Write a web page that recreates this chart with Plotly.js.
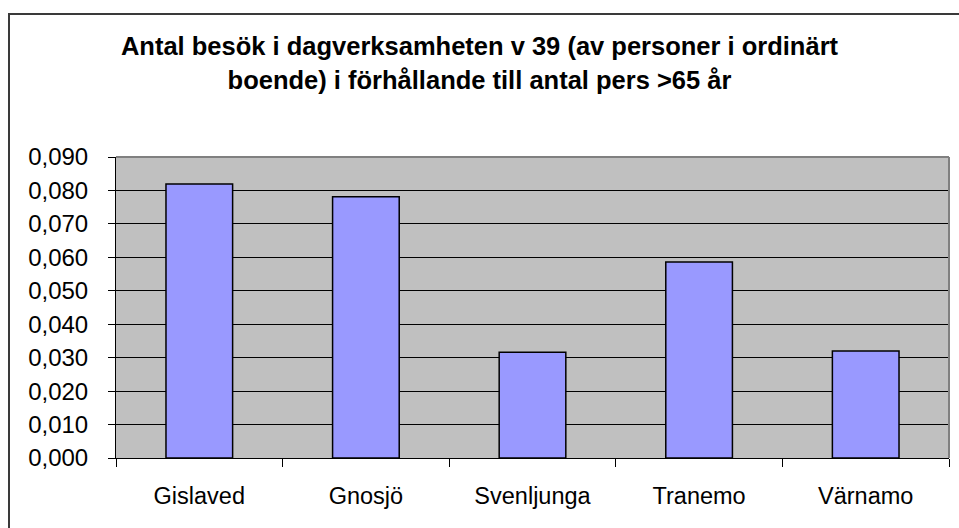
<!DOCTYPE html>
<html>
<head>
<meta charset="utf-8">
<script src="https://cdn.plot.ly/plotly-3.0.1.min.js"></script>
<style>
html,body{margin:0;padding:0;background:#fff;}
#chart{width:959px;height:528px;position:absolute;left:0;top:0;}
#frame{position:absolute;left:8px;top:13px;width:1000px;height:600px;border-left:2px solid #3a3a3a;border-top:2px solid #3a3a3a;pointer-events:none;}
</style>
</head>
<body>
<div id="chart"></div>
<div id="frame"></div>
<script>
var categories = ["Gislaved", "Gnosjö", "Svenljunga", "Tranemo", "Värnamo"];
var values = [0.0819, 0.0781, 0.0316, 0.0586, 0.0320];
var tickValues = [0, 0.01, 0.02, 0.03, 0.04, 0.05, 0.06, 0.07, 0.08, 0.09];
var tickLabels = ["0,000", "0,010", "0,020", "0,030", "0,040", "0,050", "0,060", "0,070", "0,080", "0,090"];
var titleText = "Antal besök i dagverksamheten v 39 (av personer i ordinärt<br>boende) i förhållande till antal pers >65 år";

var font = "Liberation Sans, Arial, sans-serif";

var trace = {
  type: "bar",
  x: categories,
  y: values,
  marker: {color: "#9999FF", line: {color: "#000000", width: 1.5}},
  hoverinfo: "x+y"
};

var layout = {
  width: 959,
  height: 528,
  margin: {l: 116, r: 10, t: 157, b: 70, pad: 0},
  paper_bgcolor: "#ffffff",
  plot_bgcolor: "#C0C0C0",
  bargap: 0.6,
  showlegend: false,
  font: {family: font, color: "#000000"},
  title: {
    text: titleText,
    font: {family: font, size: 25.5, color: "#000000", weight: "bold"},
    x: 0.5, xref: "container", xanchor: "center",
    y: 0.895, yref: "container", yanchor: "middle"
  },
  xaxis: {
    type: "category",
    showline: true, linecolor: "#000000", linewidth: 1,
    ticks: "outside", tickson: "boundaries", ticklen: 8, tickcolor: "#000000", tickwidth: 1,
    ticklabelstandoff: 17,
    tickfont: {family: font, size: 23.5, color: "#000000"},
    showgrid: false, zeroline: false,
    fixedrange: true
  },
  yaxis: {
    range: [0, 0.09],
    tickvals: tickValues,
    ticktext: tickLabels,
    showline: true, linecolor: "#000000", linewidth: 1,
    ticks: "outside", ticklen: 7, tickcolor: "#000000", tickwidth: 1,
    ticklabelstandoff: 15,
    tickfont: {family: font, size: 24, color: "#000000"},
    showgrid: true, gridcolor: "#000000", gridwidth: 1,
    zeroline: false,
    fixedrange: true
  },
  shapes: [
    {type: "line", xref: "paper", yref: "paper", x0: 0, x1: 1, y0: 1, y1: 1, line: {color: "#808080", width: 2}},
    {type: "line", xref: "paper", yref: "paper", x0: 1, x1: 1, y0: 0, y1: 1, line: {color: "#808080", width: 2}}
  ]
};

Plotly.newPlot("chart", [trace], layout, {displayModeBar: false, staticPlot: true});
</script>
</body>
</html>
